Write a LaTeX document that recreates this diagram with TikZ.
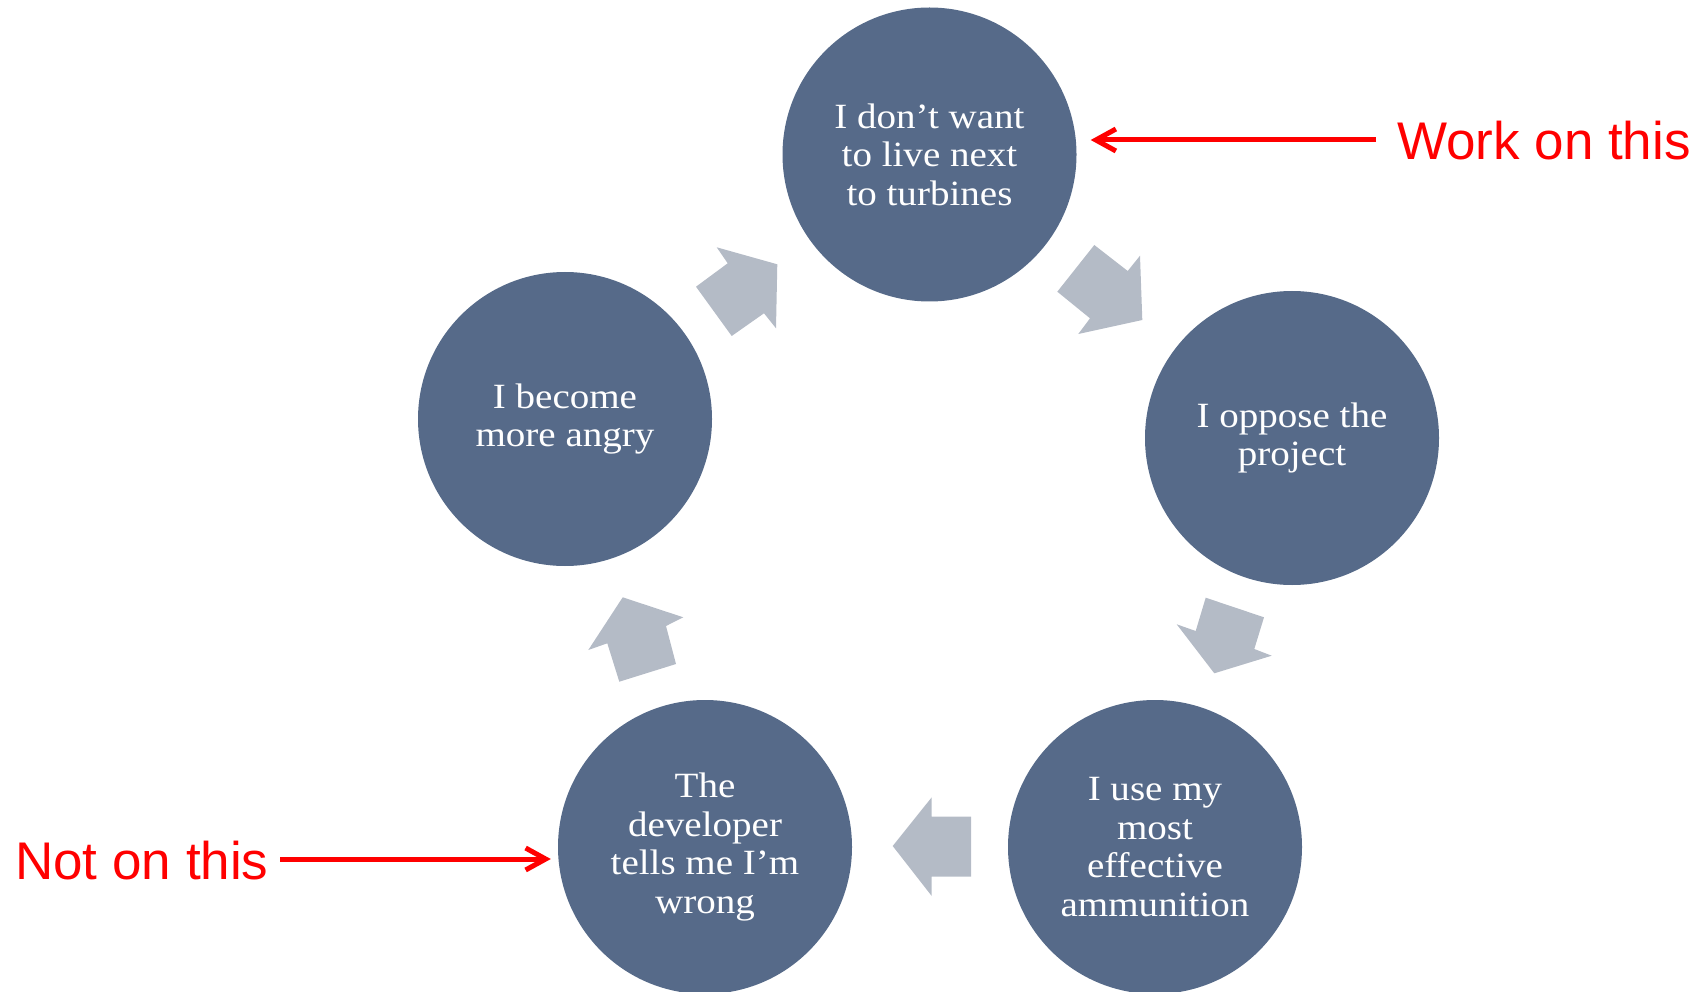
\documentclass[tikz,border=0pt]{standalone}
\usepackage{fontspec}
\setmainfont{Liberation Serif}[FakeStretch=1.1]
\newfontfamily\labelfont{Liberation Sans}
\usetikzlibrary{arrows.meta}
\definecolor{circblue}{RGB}{86,106,137}
\definecolor{arrgray}{RGB}{180,187,198}
\definecolor{redline}{RGB}{255,0,0}
\begin{document}
\begin{tikzpicture}[x=1pt,y=-1pt,
  cyc/.style={circle, fill=circblue, minimum size=294pt, inner sep=0pt, text=white, align=center, font=\fontsize{35.5}{38.6}\selectfont},
  blk/.style={fill=arrgray},
  lbl/.style={text=redline, font=\labelfont\fontsize{53}{60}\selectfont, inner sep=0pt},
  redarr/.style={draw=redline, line width=5pt, -{Straight Barb[length=20pt,width=22pt]}}]
\useasboundingbox (0,0) rectangle (1708,992);
\node[cyc] (c1) at (929.5,154.5) {I don’t want\\to live next\\to turbines};
\node[cyc] (c2) at (1292,438) {I oppose the\\project};
\node[cyc] (c3) at (1155,847) {I use my\\most\\effective\\ammunition};
\node[cyc] (c4) at (705,847) {The\\developer\\tells me I’m\\wrong};
\node[cyc] (c5) at (565,419) {I become\\more angry};
% cycle arrows
\fill[blk] (716.7,247.3) -- (777.3,264.3) -- (776,328.3) -- (764,313.3) -- (731.7,336) -- (696,286.7) -- (727.7,263.3) -- cycle;
\fill[blk] (1094.3,245) -- (1127.7,271) -- (1140,255.7) -- (1142.3,320) -- (1078.3,334) -- (1090,318.3) -- (1057.3,291.7) -- cycle;
\fill[blk] (1205.7,597.7) -- (1264,617.3) -- (1254.3,649) -- (1271.7,655.7) -- (1214.3,673.3) -- (1176.7,624.3) -- (1195.7,631) -- cycle;
\fill[blk] (931.7,797.3) -- (931.7,816.7) -- (971,816.7) -- (971,876.7) -- (931.7,876.7) -- (931.7,896) -- (892.7,846) -- cycle;
\fill[blk] (622.7,597.3) -- (683.3,617.3) -- (666,626) -- (676,664) -- (619.3,681.7) -- (607.3,643.3) -- (588.3,650) -- cycle;
% red labels
\node[lbl, anchor=base west] (work) at (1397,160) {Work on this};
\node[lbl, anchor=base west] (not) at (15,879) {Not on this};
\coordinate (w0) at (1376,140);
\coordinate (n0) at (280,859);
\draw[redarr, shorten >=14pt] (w0) -- (c1.east |- w0);
\draw[redarr, shorten >=7pt] (n0) -- (c4.west |- n0);
\end{tikzpicture}
\end{document}
